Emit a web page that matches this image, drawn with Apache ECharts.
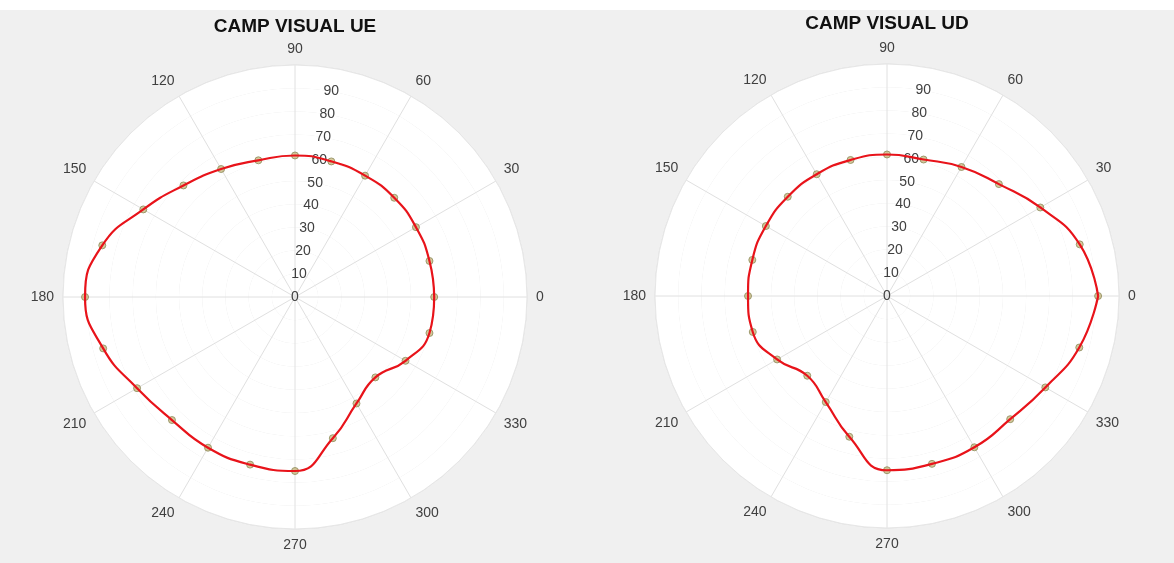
<!DOCTYPE html>
<html>
<head>
<meta charset="utf-8">
<title>CAMP VISUAL UE / UD</title>
<script src="https://cdn.jsdelivr.net/npm/echarts@6/dist/echarts.min.js"></script>
<style>
  html, body { margin: 0; padding: 0; background: #f0f0f0; }
  #chart { width: 1174px; height: 563px; }
</style>
</head>
<body>
<div id="chart"></div>
<script>
// Sampling directions in degrees (every 15°)
const angles = [0, 15, 30, 45, 60, 75, 90, 105, 120, 135, 150, 165,
                180, 195, 210, 225, 240, 255, 270, 285, 300, 315, 330, 345];

// Measured visual field extent per direction
const ueValues = [60, 60, 60.2, 60.5, 60.4, 60.5, 61, 61, 63.7, 68, 75.5, 86,
                  90.5, 85.6, 78.6, 75, 75, 74.8, 75, 63, 53, 49, 55, 60];
const udValues = [91, 86, 76.3, 68.2, 64.2, 60.9, 61, 60.7, 60.6, 60.5, 60.3, 60.1,
                  59.9, 59.9, 54.7, 48.6, 52.8, 62.8, 75.1, 74.9, 75.3, 75.1, 78.8, 85.8];

// Axis ticks
const angleTicks = [0, 30, 60, 90, 120, 150, 180, 210, 240, 270, 300, 330];
const radiusTicks = [0, 10, 20, 30, 40, 50, 60, 70, 80, 90];
const radiusMax = 100;

const titles = ['CAMP VISUAL UE', 'CAMP VISUAL UD'];

const FONT = 'Liberation Sans, Arial, sans-serif';
const GRID = '#e0e0e0';
const LABEL = '#404040';
const LINE_RED = '#e8131a';

const panels = [
  { center: [295, 297], title: titles[0], titleTop: 17, values: ueValues },
  { center: [887, 296], title: titles[1], titleTop: 14, values: udValues }
];

const polar = [], angleAxis = [], radiusAxis = [], series = [], title = [];

panels.forEach((p, k) => {
  const dataIdx = k * 2;      // polar holding the grid and the curve
  const labelIdx = k * 2 + 1; // polar carrying the radial tick labels along 80°

  polar.push({ center: p.center, radius: 232 });
  polar.push({ center: p.center, radius: 232 });

  angleAxis.push({
    polarIndex: dataIdx,
    type: 'value', min: 0, max: 360, interval: 30,
    startAngle: 0, clockwise: false,
    axisLine: { show: true, lineStyle: { color: '#e6e6e6', width: 1 } },
    axisTick: { show: false },
    axisLabel: {
      color: LABEL, fontSize: 14, fontFamily: FONT, margin: 9,
      formatter: v => (angleTicks.indexOf(v) >= 0 ? String(v) : '')
    },
    splitLine: { show: true, lineStyle: { color: GRID, width: 1 } }
  });
  radiusAxis.push({
    polarIndex: dataIdx,
    type: 'value', min: 0, max: radiusMax, interval: 10,
    axisLine: { show: false }, axisTick: { show: false },
    axisLabel: { show: false },
    splitLine: { show: true, lineStyle: { color: GRID, width: 1 } },
    splitArea: { show: true, areaStyle: { color: ['#ffffff', '#ffffff'] } }
  });

  angleAxis.push({
    polarIndex: labelIdx,
    type: 'value', min: 0, max: 360,
    startAngle: 80, clockwise: false, show: false
  });
  radiusAxis.push({
    polarIndex: labelIdx, z: 1,
    type: 'value', min: 0, max: radiusMax, interval: 10,
    axisLine: { show: false }, axisTick: { show: false },
    splitLine: { show: false }, splitArea: { show: false },
    axisLabel: {
      show: true, margin: 0, align: 'center', verticalAlign: 'middle',
      color: LABEL, fontSize: 14, fontFamily: FONT, rotate: 0,
      formatter: v => (radiusTicks.indexOf(v) >= 0 ? String(v) : '')
    }
  });

  const pts = angles.map((a, i) => [p.values[i], a]);
  const closed = pts.concat([[p.values[0], 360]]);

  series.push({
    type: 'scatter', coordinateSystem: 'polar', polarIndex: dataIdx,
    data: pts, symbol: 'circle', symbolSize: 7, z: 2,
    itemStyle: { color: 'rgba(190,170,100,0.8)', borderColor: '#8c8a5a', borderWidth: 1 },
    silent: true
  });
  series.push({
    type: 'line', coordinateSystem: 'polar', polarIndex: dataIdx,
    data: closed, smooth: 0.5, showSymbol: false, z: 3,
    lineStyle: { color: LINE_RED, width: 2.2 },
    silent: true
  });

  title.push({
    text: p.title, left: p.center[0], top: p.titleTop, textAlign: 'center', padding: 0,
    textStyle: { fontSize: 19, fontWeight: 'bold', color: '#111', fontFamily: FONT }
  });
});

const chart = echarts.init(document.getElementById('chart'), null, { renderer: 'canvas' });
chart.setOption({
  backgroundColor: '#f0f0f0',
  animation: false,
  title: title,
  graphic: [{ type: 'rect', shape: { x: 0, y: 0, width: 1174, height: 10 }, style: { fill: '#ffffff' }, z: -1 }],
  polar: polar,
  angleAxis: angleAxis,
  radiusAxis: radiusAxis,
  series: series
});
</script>
</body>
</html>
